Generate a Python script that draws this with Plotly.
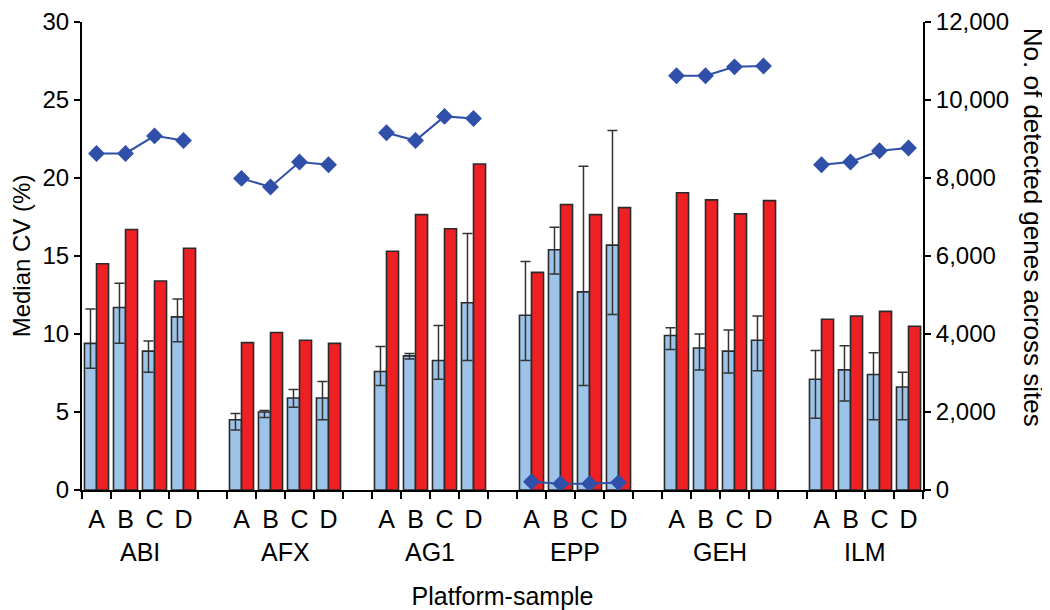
import plotly.graph_objects as go

platforms = ["ABI", "AFX", "AG1", "EPP", "GEH", "ILM"]
samples = ["A", "B", "C", "D"]

# Median CV (%) - blue bars, with error-bar low/high
cv_median = [9.4, 11.7, 8.9, 11.1,
             4.5, 5.0, 5.9, 5.9,
             7.6, 8.6, 8.3, 12.0,
             11.2, 15.4, 12.7, 15.7,
             9.9, 9.1, 8.9, 9.6,
             7.1, 7.7, 7.4, 6.6]
cv_high = [11.6, 13.25, 9.55, 12.25,
           4.9, 5.1, 6.45, 6.95,
           9.2, 8.75, 10.55, 16.45,
           14.65, 16.85, 20.75, 23.05,
           10.4, 10.0, 10.25, 11.15,
           8.95, 9.25, 8.8, 7.55]
cv_low = [7.8, 9.4, 7.55, 9.5,
          3.85, 4.65, 5.3, 4.5,
          6.7, 8.4, 7.1, 8.3,
          8.3, 13.85, 6.7, 11.25,
          9.0, 7.7, 7.5, 7.65,
          4.6, 5.7, 4.5, 4.5]
# second CV series - red bars
cv_red = [14.5, 16.7, 13.4, 15.5,
          9.45, 10.1, 9.6, 9.4,
          15.3, 17.65, 16.75, 20.9,
          13.95, 18.3, 17.65, 18.1,
          19.05, 18.6, 17.7, 18.55,
          10.95, 11.15, 11.45, 10.5]
# No. of detected genes across sites - line on right axis
genes = [8630, 8630, 9080, 8960,
         7990, 7770, 8410, 8340,
         9160, 8960, 9580, 9525,
         210, 160, 160, 190,
         10620, 10620, 10850, 10870,
         8340, 8410, 8700, 8770]

FONT = "Liberation Sans, Arial, Helvetica, sans-serif"
n_per = len(samples)
step = n_per + 1  # one empty slot between platforms

xs, letters = [], []
for g in range(len(platforms)):
    for s in range(n_per):
        xs.append(g * step + s)
        letters.append(samples[s])

# line x/y with gaps between platforms
line_x, line_y = [], []
for g in range(len(platforms)):
    for s in range(n_per):
        line_x.append(g * step + s)
        line_y.append(genes[g * n_per + s])
    if g < len(platforms) - 1:
        line_x.append(g * step + n_per)
        line_y.append(None)

n_slots = len(platforms) * step - 1
boundaries = [i - 0.5 for i in range(n_slots + 1)]

err_plus = [h - m for h, m in zip(cv_high, cv_median)]
err_minus = [m - l for m, l in zip(cv_median, cv_low)]

fig = go.Figure()
fig.add_trace(go.Bar(
    x=xs, y=cv_median, name="Median CV",
    marker=dict(color="#9DC3E8", line=dict(color="#2a2a2a", width=1.6)),
    error_y=dict(type="data", symmetric=False, array=err_plus, arrayminus=err_minus,
                 color="#333333", thickness=1.5, width=5),
))
fig.add_trace(go.Bar(
    x=xs, y=cv_red, name="CV 2",
    marker=dict(color="#EE2024", line=dict(color="#2a2a2a", width=1.6)),
))
fig.add_trace(go.Scatter(
    x=line_x, y=line_y, yaxis="y2", mode="lines+markers", connectgaps=False,
    name="No. of detected genes",
    line=dict(color="#2F4FA8", width=2),
    marker=dict(symbol="diamond", size=13, color="#2F4FA8"),
))

for g, p in enumerate(platforms):
    fig.add_annotation(x=g * step + (n_per - 1) / 2, y=-0.1325, xref="x", yref="paper",
                       text=p, showarrow=False, yanchor="middle",
                       font=dict(family=FONT, size=25, color="black"))

# right axis title
fig.add_annotation(x=1.131, y=0.562, xref="paper", yref="paper",
                   text="No. of detected genes across sites", textangle=90,
                   showarrow=False, xanchor="center", yanchor="middle",
                   font=dict(family=FONT, size=26, color="black"))

fig.update_layout(
    width=1042, height=602,
    margin=dict(l=74, r=127, t=14, b=120, autoexpand=False),
    paper_bgcolor="white", plot_bgcolor="white",
    showlegend=False,
    barmode="group", bargap=0.17, bargroupgap=0,
    font=dict(family=FONT, size=25, color="black"),
    xaxis=dict(
        range=[-0.5, n_slots - 0.5], automargin=False,
        tickmode="array", tickvals=xs, ticktext=letters,
        ticks="", ticklabelstandoff=6,
        showline=True, linecolor="black", linewidth=2,
        showgrid=False, zeroline=False,
        minor=dict(tickmode="array", tickvals=boundaries, ticks="outside",
                   ticklen=7, tickwidth=2, tickcolor="black", showgrid=False),
        title=dict(text="Platform-sample", standoff=60, font=dict(size=25)),
    ),
    yaxis=dict(
        range=[0, 30], dtick=5, tick0=0, automargin=False,
        ticklabeloverflow="allow", tickfont=dict(size=24),
        ticks="outside", ticklen=6, tickwidth=2, tickcolor="black",
        showline=True, linecolor="black", linewidth=2,
        showgrid=False, zeroline=False,
        title=dict(text="Median CV (%)", standoff=14, font=dict(size=24)),
    ),
    yaxis2=dict(
        range=[0, 12000], dtick=2000, tick0=0, tickformat=",", automargin=False,
        ticklabeloverflow="allow", tickfont=dict(size=24),
        overlaying="y", side="right",
        ticks="outside", ticklen=6, tickwidth=2, tickcolor="black",
        showline=True, linecolor="black", linewidth=2,
        showgrid=False, zeroline=False,
    ),
)

fig.write_html("out.html")
